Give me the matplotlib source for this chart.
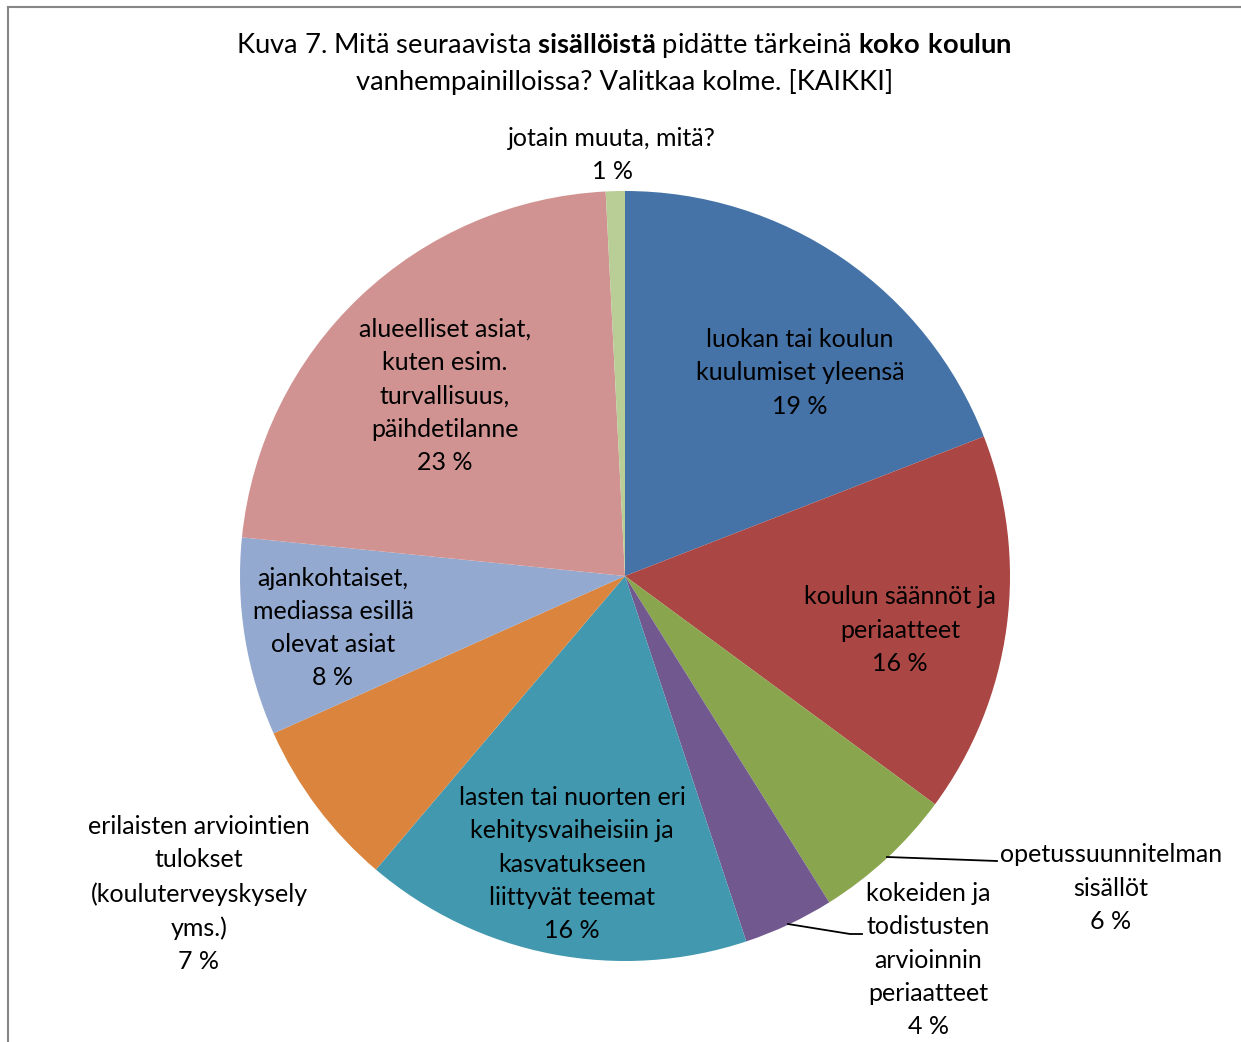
import numpy as np
import matplotlib
matplotlib.use("Agg")
import matplotlib.pyplot as plt

plt.rcParams['font.family'] = ['Lato', 'DejaVu Sans']
plt.rcParams['mathtext.fontset'] = 'custom'
plt.rcParams['mathtext.rm'] = 'Lato'
plt.rcParams['mathtext.bf'] = 'Lato:bold'

# slices, clockwise from 12 o'clock
labels = ["luokan tai koulun\nkuulumiset yleensä",
          "koulun säännöt ja\nperiaatteet",
          "opetussuunnitelman\nsisällöt",
          "kokeiden ja\ntodistusten\narvioinnin\nperiaatteet",
          "lasten tai nuorten eri\nkehitysvaiheisiin ja\nkasvatukseen\nliittyvät teemat",
          "erilaisten arviointien\ntulokset\n(kouluterveyskysely\nyms.)",
          "ajankohtaiset,\nmediassa esillä\nolevat asiat",
          "alueelliset asiat,\nkuten esim.\nturvallisuus,\npäihdetilanne",
          "jotain muuta, mitä?"]
values = [19.1, 16.0, 6.0, 3.8, 16.3, 7.1, 8.3, 22.6, 0.8]
shown_pct = [19, 16, 6, 4, 16, 7, 8, 23, 1]
colors = ["#4572A7", "#AA4643", "#89A54E", "#71588F", "#4198AF",
          "#DB843D", "#93A9CF", "#D19392", "#B9CD96"]

W, H = 1241, 1042
fig = plt.figure(figsize=(W / 100, H / 100), dpi=100)
ax = fig.add_axes([0, 0, 1, 1])

cx, cy, r = 625, H - 576, 385
ax.pie(values, colors=colors, startangle=90, counterclock=False,
       center=(cx, cy), radius=r, frame=True,
       wedgeprops=dict(linewidth=0))
ax.set_xlim(0, W)
ax.set_ylim(0, H)
ax.set_aspect('equal')
ax.axis('off')

# label centres in pixels (from top-left)
label_pos = [(800, 373), (900, 630), (1111, 888), (928, 960), (572, 864),
             (199, 894), (333, 628), (445, 396), (612, 155)]
for lab, p, (x, y) in zip(labels, shown_pct, label_pos):
    ax.text(x, H - y, f"{lab}\n{p} %", ha='center', va='center',
            fontsize=18, linespacing=1.54, color='black')

# leader lines
ax.plot([887, 997], [H - 857, H - 861], color='black', lw=1.3)
ax.plot([788, 850, 862], [H - 924, H - 934, H - 934], color='black', lw=1.3)

# title
fig.text(0.503, 1 - 46 / H,
         r"Kuva 7. Mitä seuraavista $\mathbf{sisällöistä}$ pidätte tärkeinä $\mathbf{koko\ koulun}$",
         ha='center', va='center', fontsize=19.7)
fig.text(0.503, 1 - 82 / H, "vanhempainilloissa? Valitkaa kolme. [KAIKKI]",
         ha='center', va='center', fontsize=19.7)

# chart border (left and top visible)
fig.add_artist(plt.Line2D([8 / W, 8 / W], [0, 1 - 7 / H], color='#868686', lw=1.5))
fig.add_artist(plt.Line2D([8 / W, 1], [1 - 7 / H, 1 - 7 / H], color='#868686', lw=1.5))

fig.savefig("out.png", dpi=100)
